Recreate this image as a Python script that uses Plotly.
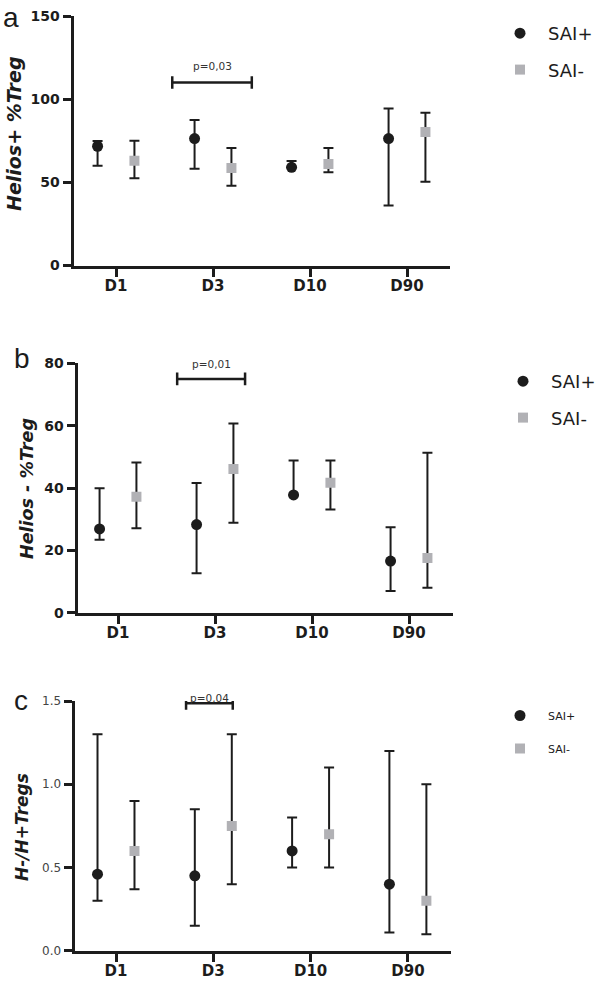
import numpy as np
import plotly.graph_objects as go

W, H = 598, 990
LW = 3  # axis line width

# ---------------- data ----------------
categories = ["D1", "D3", "D10", "D90"]
series_names = ["SAI+", "SAI-"]

# panel a : Helios+ %Treg
a_pos_mean = [71.7, 76.3, 59.0, 76.3]
a_pos_hi = [74.9, 87.5, 62.8, 94.4]
a_pos_lo = [60.0, 58.2, 59.0, 36.0]
a_neg_mean = [63.0, 58.6, 61.0, 80.3]
a_neg_hi = [75.0, 70.7, 70.7, 91.9]
a_neg_lo = [52.4, 48.0, 56.0, 50.4]

# panel b : Helios - %Treg
b_pos_mean = [26.9, 28.3, 37.8, 16.6]
b_pos_hi = [39.9, 41.6, 48.8, 27.4]
b_pos_lo = [23.4, 12.7, 37.8, 7.0]
b_neg_mean = [37.2, 46.1, 41.7, 17.6]
b_neg_hi = [48.2, 60.7, 48.8, 51.3]
b_neg_lo = [27.1, 28.9, 33.1, 8.0]

# panel c : H-/H+Tregs
c_pos_mean = [0.46, 0.45, 0.60, 0.40]
c_pos_hi = [1.30, 0.85, 0.80, 1.20]
c_pos_lo = [0.30, 0.15, 0.50, 0.11]
c_neg_mean = [0.60, 0.75, 0.70, 0.30]
c_neg_hi = [0.90, 1.30, 1.10, 1.00]
c_neg_lo = [0.37, 0.40, 0.50, 0.10]

# significance brackets (x in category units, D1 = 0)
sig_x_start = [0.58, 0.61, 0.72]
sig_x_end = [1.40, 1.31, 1.20]
sig_y = [110, 75, 1.486]
sig_text = ["p=0,03", "p=0,01", "p=0,04"]

y_titles = ["Helios+ %Treg", "Helios - %Treg", "H-/H+Tregs"]
panel_letters = ["a", "b", "c"]
y_ranges = [[0, 150], [0, 80], [0, 1.5]]
y_ticks = [[0, 50, 100, 150], [0, 20, 40, 60, 80], [0, 0.5, 1.0, 1.5]]

# ---------------- style ----------------
INK = "#1c1c1c"
GREY = "#b1b1b5"
FONT = "DejaVu Sans"
OFFSET = 0.19

def px_x(v):
    return v / W

def px_y(v):
    return 1 - v / H

# pixel boxes of the three plot areas (axis line centres): left, right, top, bottom, D1 tick px, step px
boxes = [
    (72, 450, 16, 267, 116, 97.0),
    (76, 453, 363.3, 614.3, 118, 97.0),
    (73, 451, 701, 952.3, 116, 97.3),
]

panels = [
    (a_pos_mean, a_pos_hi, a_pos_lo, a_neg_mean, a_neg_hi, a_neg_lo),
    (b_pos_mean, b_pos_hi, b_pos_lo, b_neg_mean, b_neg_hi, b_neg_lo),
    (c_pos_mean, c_pos_hi, c_pos_lo, c_neg_mean, c_neg_hi, c_neg_lo),
]

fig = go.Figure()
pos = np.arange(len(categories), dtype=float)

legend_cfg = [
    dict(x=492, y=15, size=18, gap=10),
    dict(x=495, y=363, size=18, gap=10),
    dict(x=492, y=701, size=11, gap=14),
]

for i, (pm, ph, pl, nm, nh, nl) in enumerate(panels):
    sfx = "" if i == 0 else str(i + 1)
    xa, ya = "x" + sfx, "y" + sfx
    leg = "legend" + sfx
    pm, ph, pl = np.array(pm), np.array(ph), np.array(pl)
    nm, nh, nl = np.array(nm), np.array(nh), np.array(nl)
    for name, m, hi, lo, off, sym, col, msz in [
        ("SAI+", pm, ph, pl, -OFFSET, "circle", INK, 11),
        ("SAI-", nm, nh, nl, OFFSET, "square", GREY, 10),
    ]:
        fig.add_trace(go.Scatter(
            x=pos + off, y=m, mode="markers", name=name,
            xaxis=xa, yaxis=ya, legend=leg, legendgroup=name + sfx,
            marker=dict(symbol=sym, size=msz, color=col, line=dict(width=0)),
            error_y=dict(type="data", symmetric=False, array=hi - m, arrayminus=m - lo,
                         color=INK, thickness=2, width=5),
        ))
    # significance bracket
    fig.add_trace(go.Scatter(
        x=[sig_x_start[i], sig_x_end[i]], y=[sig_y[i], sig_y[i]],
        mode="lines+markers", xaxis=xa, yaxis=ya, showlegend=False,
        line=dict(color=INK, width=2.5),
        marker=dict(symbol="line-ns", size=9, line=dict(width=2.5, color=INK), color=INK),
        hoverinfo="skip",
    ))

    left, right, top, bottom, d1, step = boxes[i]
    dl = left + LW / 2       # plotly draws the axis line outside the domain
    db = bottom - LW / 2
    xr = [(dl - d1) / step, (right - d1) / step]
    tick_font = dict(family=FONT, size=14, color=INK, weight="bold") if i < 2 else \
        dict(family=FONT, size=12, color="#444444")
    fig.update_layout(**{
        "xaxis" + sfx: dict(
            domain=[px_x(dl), px_x(right)], anchor=ya, range=xr,
            tickvals=pos, ticktext=categories, showgrid=False, zeroline=False,
            showline=True, linewidth=LW, linecolor=INK, ticks="outside",
            ticklen=8, tickwidth=3, tickcolor=INK, ticklabelstandoff=-4,
            tickfont=dict(family=FONT, size=15, color=INK, weight="bold"),
        ),
        "yaxis" + sfx: dict(
            domain=[px_y(db), px_y(top)], anchor=xa, range=y_ranges[i],
            tickvals=y_ticks[i], tickformat=".1f" if i == 2 else "d",
            showgrid=False, zeroline=False,
            showline=True, linewidth=LW, linecolor=INK, ticks="outside",
            ticklen=8, tickwidth=3, tickcolor=INK, tickfont=tick_font,
        ),
        leg: dict(
            x=px_x(legend_cfg[i]["x"]), y=px_y(legend_cfg[i]["y"]),
            xanchor="left", yanchor="top", itemwidth=46,
            font=dict(family=FONT, size=legend_cfg[i]["size"], color=INK),
            tracegroupgap=legend_cfg[i]["gap"], bgcolor="rgba(0,0,0,0)",
            itemclick=False, itemdoubleclick=False,
        ),
    })

    # significance text
    fig.add_annotation(
        x=(sig_x_start[i] + sig_x_end[i]) / 2, y=sig_y[i], xref=xa, yref=ya,
        text=sig_text[i], showarrow=False, xanchor="center", yanchor="bottom",
        yshift=[9, 7, -3][i],
        font=dict(family=FONT, size=10.5, color="#333333"),
    )
    # y title
    fig.add_annotation(
        x=px_x([14, 27, 22][i]), y=px_y([134, 489, 827][i]), xref="paper", yref="paper",
        text=y_titles[i], textangle=-90, showarrow=False,
        xanchor="center", yanchor="middle",
        font=dict(family=FONT, size=[19, 17.5, 17][i], color=INK, weight="bold", style="italic"),
    )
    # panel letter
    fig.add_annotation(
        x=px_x([11, 22, 21][i]), y=px_y([17, 358, 700][i]), xref="paper", yref="paper",
        text=panel_letters[i], showarrow=False, xanchor="center", yanchor="middle",
        font=dict(family="Liberation Sans", size=28, color=INK),
    )

fig.update_layout(
    width=W, height=H, autosize=False,
    margin=dict(l=0, r=0, t=0, b=0, autoexpand=False),
    paper_bgcolor="white", plot_bgcolor="white",
)

fig.write_html(
    "out.html",
    config={"displayModeBar": False},
    post_script="document.body.style.margin='0px';document.body.style.padding='0px';"
                "document.body.style.overflow='hidden';",
)
